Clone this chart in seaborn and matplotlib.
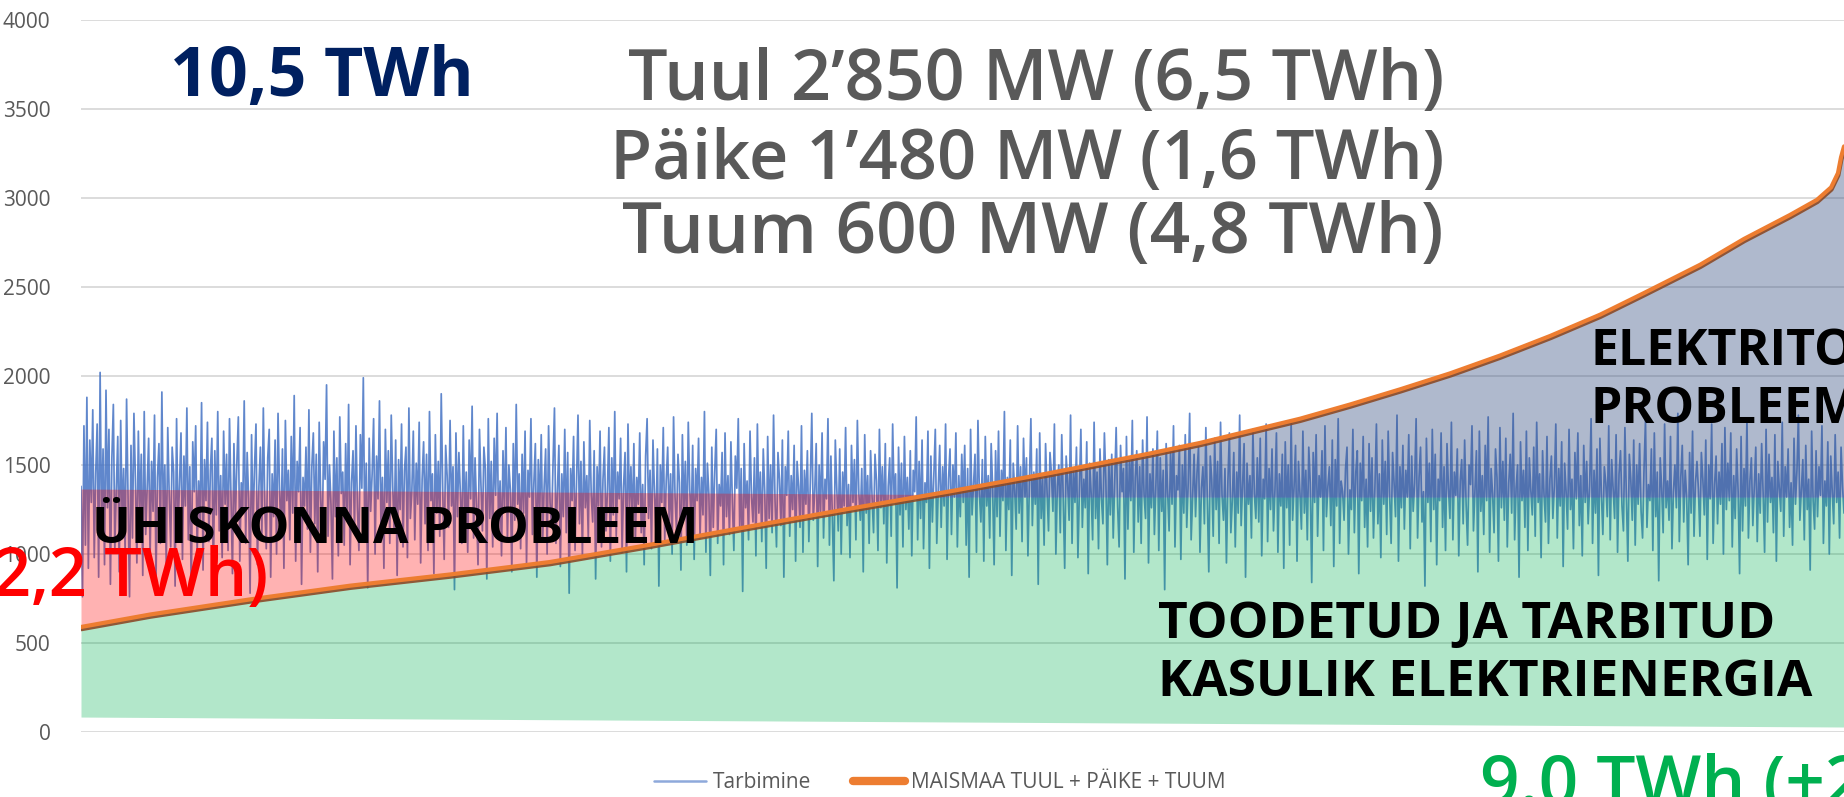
import numpy as np
import matplotlib
matplotlib.use("Agg")
import matplotlib.pyplot as plt
import matplotlib.patheffects as pe
from matplotlib.lines import Line2D
import seaborn as sns

# ---------------- data ----------------
HOURS = 8760
consumption_mw = [
    1380, 760, 1720, 1050, 1880, 920, 1640, 1290, 1810, 980, 1450, 1730, 870, 2020, 1150, 1590, 940, 1920, 1260, 1700,
    830, 1540, 1840, 1020, 1360, 1660, 900, 1750, 1180, 1480, 1010, 1870, 1320, 760, 1610, 1090, 1790, 1420, 950, 1690,
    1230, 1560, 880, 1800, 1110, 1370, 1650, 990, 1520, 1240, 1780, 860, 1430, 1620, 1060, 1910, 1200, 1500, 930, 1710,
    1330, 1040, 1600, 1460, 820, 1760, 1140, 1390, 1680, 970, 1550, 1270, 1820, 1080, 1490, 790, 1630, 1350, 1720, 1000,
    1410, 1180, 1850, 910, 1530, 1300, 1740, 1070, 1470, 1650, 850, 1580, 1220, 1800, 1130, 1440, 980, 1690, 1280, 1560,
    1020, 1760, 1340, 890, 1620, 1190, 1510, 1770, 960, 1400, 1250, 1860, 1060, 1570, 1310, 780, 1670, 1150, 1480, 1730,
    940, 1380, 1600, 1110, 1820, 1260, 1030, 1540, 1700, 870, 1450, 1210, 1640, 1000, 1790, 1360, 1120, 1590, 920, 1750,
    1300, 1470, 1080, 1660, 1230, 1890, 960, 1520, 1350, 1710, 830, 1430, 1270, 1600, 1140, 1810, 1010, 1490, 1680, 1170,
    1560, 900, 1740, 1320, 1070, 1630, 1420, 1950, 1100, 1500, 1280, 860, 1690, 1210, 1540, 990, 1770, 1340, 1460, 1050,
    1620, 1190, 1840, 940, 1400, 1580, 1130, 1720, 1260, 1020, 1670, 1370, 1990, 1090, 1510, 810, 1650, 1240, 1450, 1760,
    1000, 1550, 1310, 1860, 1160, 1430, 920, 1700, 1290, 1580, 1060, 1780, 1380, 1120, 1640, 880, 1530, 1250, 1730, 1040,
    1470, 1600, 980, 1820, 1200, 1350, 1690, 1080, 1510, 1280, 1740, 950, 1420, 1630, 1170, 1560, 1020, 1800, 1300, 1450,
    890, 1670, 1230, 1520, 1100, 1900, 1360, 970, 1610, 1440, 1150, 1750, 1270, 1490, 800, 1680, 1210, 1570, 1340, 1060,
    1720, 1180, 1460, 1010, 1640, 1310, 1830, 1090, 1540, 1260, 940, 1700, 1390, 1130, 1600, 1480, 860, 1760, 1200, 1520,
    1040, 1650, 1330, 1790, 1140, 1410, 990, 1580, 1250, 1710, 1070, 1500, 1360, 900, 1620, 1190, 1840, 1280, 1450, 1030,
    1560, 1230, 1690, 950, 1470, 1320, 1760, 1110, 1400, 1620, 870, 1530, 1240, 1670, 1080, 1380, 1590, 1000, 1720, 1290,
    1150, 1500, 1820, 1060, 1350, 1610, 930, 1450, 1210, 1700, 1120, 1570, 780, 1480, 1300, 1660, 1020, 1400, 1780, 1170,
    1520, 990, 1630, 1260, 1440, 1090, 1750, 1330, 1180, 1580, 860, 1490, 1270, 1690, 1040, 1420, 1600, 1130, 1350, 1710,
    960, 1540, 1220, 1800, 1100, 1460, 1310, 1650, 1010, 1380, 1570, 900, 1730, 1250, 1490, 1160, 1620, 1070, 1430, 1280,
    1680, 1120, 1390, 940, 1550, 1760, 1200, 1470, 1030, 1640, 1340, 1140, 1590, 820, 1500, 1290, 1710, 1080, 1410, 1600,
    1190, 1450, 1000, 1770, 1320, 1130, 1560, 1400, 910, 1670, 1240, 1520, 1050, 1740, 1360, 1170, 1610, 970, 1480, 1300,
    1650, 1090, 1430, 1220, 1800, 1010, 1510, 1340, 880, 1600, 1150, 1460, 1700, 1060, 1390, 1270, 1570, 940, 1680, 1210,
    1440, 1110, 1630, 1290, 1020, 1550, 1370, 1760, 1140, 1480, 790, 1620, 1260, 1410, 1080, 1690, 1320, 1180, 1540, 990,
    1730, 1230, 1460, 1070, 1590, 1350, 920, 1660, 1200, 1500, 1120, 1780, 1300, 1040, 1570, 1420, 1160, 1640, 870, 1490,
    1330, 1690, 1100, 1440, 1250, 1610, 960, 1520, 1380, 1150, 1720, 1010, 1470, 1280, 1580, 1070, 1400, 1790, 1190, 1350,
    1620, 930, 1500, 1240, 1680, 1090, 1420, 1310, 1760, 1050, 1550, 1210, 850, 1640, 1370, 1130, 1590, 1000, 1460, 1270,
    1710, 1160, 1390, 980, 1610, 1290, 1530, 1080, 1750, 1340, 1190, 1480, 900, 1670, 1230, 1440, 1060, 1580, 1320, 1120,
    1560, 1410, 1020, 1700, 1260, 1490, 1170, 1620, 950, 1380, 1540, 1100, 1730, 1300, 1450, 810, 1600, 1220, 1510, 1040,
    1660, 1250, 1430, 1140, 1580, 990, 1470, 1350, 1770, 1080, 1520, 1200, 1640, 1030, 1400, 1290, 1690, 920, 1550, 1180,
    1450, 1700, 1060, 1360, 1610, 1150, 1490, 1270, 1730, 970, 1420, 1590, 1110, 1500, 1320, 1680, 1040, 1440, 1210, 1560,
    1290, 1610, 1050, 1480, 870, 1700, 1220, 1390, 1560, 1010, 1750, 1340, 1180, 1530, 960, 1660, 1270, 1440, 1090, 1620,
    1370, 940, 1580, 1210, 1690, 1100, 1470, 1300, 1800, 1020, 1430, 1250, 1640, 880, 1510, 1360, 1140, 1720, 1230, 1490,
    1070, 1650, 1320, 1540, 990, 1400, 1760, 1160, 1460, 1280, 1590, 830, 1680, 1200, 1420, 1050, 1620, 1350, 1130, 1570,
    1450, 1240, 1730, 1000, 1380, 1500, 1120, 1670, 1310, 920, 1550, 1400, 1190, 1780, 1060, 1470, 1290, 1600, 980, 1360,
    1700, 1150, 1420, 1260, 1630, 890, 1510, 1340, 1080, 1740, 1200, 1460, 1030, 1590, 1310, 1170, 1680, 1410, 940, 1530,
    1220, 1560, 1090, 1390, 1710, 1270, 1040, 1610, 1350, 1480, 860, 1660, 1140, 1520, 1300, 1750, 1010, 1430, 1580, 1180,
    1490, 1060, 1640, 1330, 1200, 1770, 950, 1450, 1260, 1590, 1110, 1380, 1690, 1020, 1540, 1240, 1470, 800, 1620, 1350,
    1130, 1580, 1280, 1720, 1040, 1440, 1360, 1610, 970, 1500, 1230, 1670, 1150, 1400, 1790, 1080, 1320, 1560, 1210, 1460,
    1600, 1010, 1370, 1490, 1170, 1710, 1290, 900, 1550, 1420, 1100, 1650, 1250, 1520, 1060, 1740, 1330, 1190, 1480, 950,
    1410, 1680, 1120, 1300, 1570, 1040, 1460, 1230, 1780, 1160, 1390, 1620, 870, 1510, 1280, 1440, 1090, 1700, 1340, 1200,
    1540, 1180, 1650, 990, 1420, 1310, 1730, 1070, 1480, 1250, 1590, 1130, 1360, 1680, 1010, 1450, 1270, 1560, 920, 1630,
    1260, 1500, 1050, 1750, 1190, 1380, 1610, 960, 1520, 1340, 1140, 1690, 1230, 1470, 1080, 1600, 1400, 840, 1570, 1290,
    1670, 1100, 1440, 1320, 1580, 1020, 1720, 1210, 1380, 1490, 1160, 1640, 930, 1530, 1270, 1760, 1060, 1410, 1350, 1190,
    1480, 1600, 1000, 1360, 1250, 1700, 1120, 1460, 1580, 890, 1510, 1300, 1660, 1150, 1420, 1040, 1620, 1240, 1540, 1090,
    1380, 1730, 1170, 1450, 980, 1640, 1280, 1520, 1110, 1690, 1330, 1060, 1570, 1400, 1210, 1780, 960, 1490, 1260, 1610,
    1140, 1470, 1320, 1670, 1030, 1550, 1240, 1400, 1760, 1090, 1430, 1600, 1180, 1350, 820, 1650, 1290, 1510, 1070, 1700,
    1250, 1560, 940, 1420, 1300, 1680, 1150, 1490, 1020, 1620, 1370, 1200, 1740, 1080, 1460, 1330, 1590, 990, 1410, 1530,
    1170, 1640, 1280, 1050, 1500, 1390, 1720, 1130, 1350, 1580, 900, 1690, 1240, 1440, 1110, 1610, 1300, 1770, 1010, 1480,
    1340, 1120, 1590, 1430, 960, 1710, 1260, 1520, 1190, 1650, 1040, 1400, 1560, 1230, 1790, 1080, 1370, 1500, 870, 1630,
    1300, 1470, 1150, 1690, 1020, 1540, 1360, 1220, 1600, 1100, 1740, 1290, 1450, 980, 1580, 1330, 1180, 1660, 1060, 1420,
    1550, 1200, 1380, 1730, 1090, 1480, 1270, 1630, 930, 1510, 1350, 1140, 1700, 1250, 1420, 1030, 1570, 1310, 1680, 1160,
    1440, 990, 1610, 1290, 1520, 1170, 1380, 1760, 1060, 1470, 1230, 1590, 880, 1650, 1340, 1110, 1490, 1400, 1210, 1720,
    1080, 1530, 1360, 1200, 1670, 1010, 1450, 1580, 1270, 1130, 1710, 1320, 960, 1560, 1420, 1190, 1640, 1050, 1500, 1280,
    1620, 1240, 1090, 1480, 1750, 1150, 1390, 1300, 1590, 1020, 1680, 1210, 1460, 850, 1540, 1370, 1120, 1730, 1260, 1410,
    1190, 1660, 1030, 1350, 1500, 1260, 1790, 1070, 1430, 1610, 1180, 1470, 1320, 940, 1570, 1230, 1690, 1100, 1400, 1520,
    1360, 1100, 1570, 1420, 1220, 1640, 970, 1500, 1310, 1730, 1060, 1390, 1550, 1170, 1460, 1280, 1620, 1000, 1710, 1250,
    1510, 1300, 1680, 1040, 1440, 1200, 1590, 1350, 890, 1660, 1130, 1480, 1270, 1760, 1090, 1410, 1540, 1160, 1380, 1600,
    1070, 1450, 1230, 1620, 1340, 1010, 1700, 1180, 1560, 1290, 1430, 1120, 1670, 960, 1520, 1370, 1240, 1740, 1100, 1490,
    1320, 1590, 1150, 1400, 1050, 1650, 1280, 1470, 1780, 1190, 1360, 1530, 1080, 1610, 1250, 1420, 910, 1690, 1300, 1140,
    1580, 1210, 1490, 1330, 1720, 1060, 1410, 1270, 1630, 1000, 1550, 1350, 1170, 1670, 1290, 1460, 1090, 1600, 1380, 1230,
]
prod_hours = [0, 343, 840, 1337, 1834, 2330, 2827, 3324, 3821, 4318, 4815, 5312, 5560, 6057, 6306,
              6554, 6803, 7051, 7300, 7549, 7766, 8045, 8263, 8492, 8626, 8696, 8730, 8745, 8760]
prod_mw = [590, 660, 745, 822, 885, 955, 1052, 1155, 1255, 1352, 1455, 1565, 1624, 1760, 1840,
           1925, 2015, 2115, 2225, 2345, 2466, 2625, 2770, 2905, 2990, 3060, 3140, 3228, 3290]

useful_level = 1320            # top of the "useful energy" band
pink_top = [1365, 1335]        # top of "ühiskonna probleem" band (start, end)
green_base = [84, 28]          # bottom edge of green band (start, end)

y_ticks = [0, 500, 1000, 1500, 2000, 2500, 3000, 3500, 4000]
legend_labels = ["Tarbimine", "MAISMAA TUUL + PÄIKE + TUUM"]

# ---------------- style ----------------
sns.set_theme(style="white")
plt.rcParams["font.family"] = ["Open Sans", "DejaVu Sans"]

W, H = 1844, 797
fig = plt.figure(figsize=(W / 100, H / 100), dpi=100)
ax = fig.add_axes([81 / W, 1 - 732 / H, 1 - 81 / W, (732 - 20) / H])

def px(x, y):
    return x / W, 1 - y / H

# grid
ax.set_ylim(0, 4000)
ax.set_xlim(0, HOURS)
ax.set_yticks(y_ticks)
ax.set_yticklabels([str(t) for t in y_ticks], fontsize=15, color="#595959")
ax.tick_params(axis="y", length=0, pad=22)
ax.set_xticks([])
ax.yaxis.grid(True, color="#D9D9D9", lw=1.3, zorder=0)
ax.set_axisbelow(True)
for s in ax.spines.values():
    s.set_visible(False)

# consumption line
cons_x = np.linspace(0, HOURS, len(consumption_mw))
sns.lineplot(x=cons_x, y=consumption_mw, ax=ax, color="#4472C4", lw=1.25, alpha=0.85,
             estimator=None, legend=False, zorder=1)

# areas
hgrid = np.linspace(0, HOURS, 1764)
prod_i = np.interp(hgrid, prod_hours, prod_mw)
base_i = np.interp(hgrid, [0, HOURS], green_base)
cross_h = np.interp(useful_level, prod_mw, prod_hours)
pink_i = np.interp(hgrid, [0, cross_h], pink_top)

ax.fill_between(hgrid, base_i, np.minimum(prod_i, useful_level), color="#00B050", alpha=0.30,
                lw=0, zorder=2)
ax.fill_between(hgrid, prod_i, pink_i, where=prod_i <= pink_i, interpolate=True,
                color="#FF0000", alpha=0.30, lw=0, zorder=2)
ax.fill_between(hgrid, useful_level, prod_i, where=prod_i >= useful_level, interpolate=True,
                color="#395284", alpha=0.40, lw=0, zorder=2)

# production line
sns.lineplot(x=prod_hours, y=prod_mw, ax=ax, color="#ED7D31", lw=3.0, estimator=None,
             legend=False, zorder=3,
             path_effects=[pe.SimpleLineShadow(offset=(0.3, -1.6), shadow_color="#8A4A28", alpha=0.9),
                           pe.Normal()])

# texts
t_kw = dict(transform=fig.transFigure, va="baseline", clip_on=False)
fig.text(*px(170, 96), "10,5 TWh", fontsize=49, fontweight="bold", color="#002060", ha="left", **t_kw)
gray_lines = ["Tuul 2’850 MW (6,5 TWh)", "Päike 1’480 MW (1,6 TWh)", "Tuum 600 MW (4,8 TWh)"]
gray_sizes = [50.5, 49.3, 51.2]
for txt, yb, fs in zip(gray_lines, [100, 179, 253], gray_sizes):
    fig.text(*px(1444, yb), txt, fontsize=fs, fontweight="semibold", color="#595959", ha="right", **t_kw)
fig.text(*px(92, 543), "ÜHISKONNA PROBLEEM", fontsize=37, fontweight="bold", color="black", ha="left", **t_kw)
fig.text(*px(268, 596), "(2,2 TWh)", fontsize=48, fontweight="semibold", color="#FF0000", ha="right", **t_kw)
fig.text(*px(1590, 365), "ELEKTRITOOTJA", fontsize=36, fontweight="bold", color="black", ha="left", **t_kw)
fig.text(*px(1590, 423), "PROBLEEM", fontsize=36, fontweight="bold", color="black", ha="left", **t_kw)
fig.text(*px(1158, 638), "TOODETUD JA TARBITUD", fontsize=37, fontweight="bold", color="black", ha="left", **t_kw)
fig.text(*px(1158, 696), "KASULIK ELEKTRIENERGIA", fontsize=37, fontweight="bold", color="black", ha="left", **t_kw)
fig.text(*px(1480, 805), "9.0 TWh (+2,2 TWh)", fontsize=50, fontweight="semibold", color="#00B050", ha="left", **t_kw)

# legend
handles = [Line2D([], [], color="#8EA9DB", lw=1.8),
           Line2D([], [], color="#ED7D31", lw=6, solid_capstyle="round")]
fig.legend(handles, legend_labels, loc="center", bbox_to_anchor=px(940, 783), ncol=2, frameon=False,
           fontsize=15, labelcolor="#595959", handlelength=2.5, handletextpad=0.3, columnspacing=2.0)

fig.savefig("out.png", dpi=100)
